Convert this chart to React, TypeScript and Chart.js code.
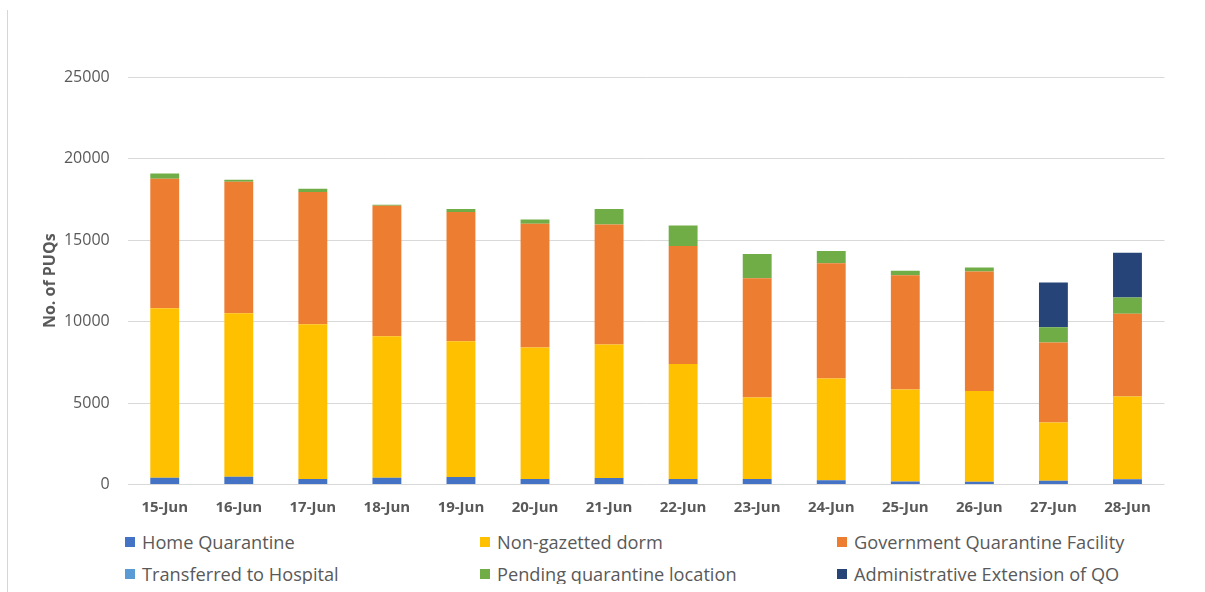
import React, { useEffect, useRef } from "react";
import { Chart, registerables } from "chart.js";

Chart.register(...registerables);

const categories = ["15-Jun", "16-Jun", "17-Jun", "18-Jun", "19-Jun", "20-Jun", "21-Jun", "22-Jun", "23-Jun", "24-Jun", "25-Jun", "26-Jun", "27-Jun", "28-Jun"];
const homeQuarantine = [418, 479, 338, 418, 461, 338, 399, 338, 338, 256, 180, 174, 235, 317];
const nonGazettedDorm = [10400, 10033, 9498, 8681, 8331, 8062, 8185, 7061, 4992, 6241, 5642, 5567, 3562, 5076];
const governmentQuarantineFacility = [7940, 8061, 8104, 8001, 7921, 7595, 7368, 7226, 7330, 7083, 7022, 7326, 4911, 5077];
const transferredToHospital = [0, 0, 0, 0, 0, 0, 0, 0, 0, 0, 0, 0, 0, 0];
const pendingQuarantineLocation = [325, 123, 204, 61, 184, 264, 945, 1265, 1474, 738, 264, 246, 943, 1001];
const administrativeExtension = [0, 0, 0, 0, 0, 0, 0, 0, 0, 0, 0, 0, 2742, 2745];

const yTicks = [0, 5000, 10000, 15000, 20000, 25000];

const series = [
  { label: "Home Quarantine", data: homeQuarantine, color: "#4472C4" },
  { label: "Non-gazetted dorm", data: nonGazettedDorm, color: "#FFC000" },
  { label: "Government Quarantine Facility", data: governmentQuarantineFacility, color: "#ED7D31" },
  { label: "Transferred to Hospital", data: transferredToHospital, color: "#5B9BD5" },
  { label: "Pending quarantine location", data: pendingQuarantineLocation, color: "#70AD47" },
  { label: "Administrative Extension of QO", data: administrativeExtension, color: "#264478" },
];

const FONT = "'Open Sans', 'Liberation Sans', sans-serif";
const TEXT = "#595959";

export default function App() {
  const ref = useRef<HTMLCanvasElement | null>(null);

  useEffect(() => {
    if (!ref.current) return;
    const chart = new Chart(ref.current, {
      type: "bar",
      data: {
        labels: categories,
        datasets: series.map((s) => ({
          label: s.label,
          data: s.data,
          backgroundColor: s.color,
          borderWidth: 0,
          categoryPercentage: 1,
          barPercentage: 0.39,
        })),
      },
      options: {
        responsive: false,
        animation: false,
        layout: { padding: { left: 0, right: 32.5, top: 69, bottom: 0 } },
        plugins: { legend: { display: false }, tooltip: { enabled: false } },
        scales: {
          x: {
            stacked: true,
            grid: { display: false, drawTicks: false },
            border: { display: false },
            ticks: {
              padding: 14,
              color: TEXT,
              font: { family: FONT, size: 15, weight: "bold" },
              maxRotation: 0,
              autoSkip: false,
            },
            afterFit: (scale: any) => {
              scale.height = 43.5;
            },
          },
          y: {
            stacked: true,
            min: yTicks[0],
            max: yTicks[yTicks.length - 1],
            afterBuildTicks: (scale: any) => {
              scale.ticks = yTicks.map((v) => ({ value: v }));
            },
            grid: { color: "#d9d9d9", lineWidth: 1, drawTicks: false },
            border: { display: false },
            ticks: {
              padding: 18,
              color: TEXT,
              font: { family: FONT, size: 16 },
              callback: (v: any) => String(v),
            },
            title: {
              display: true,
              text: "No. of PUQs",
              color: TEXT,
              font: { family: FONT, size: 16, weight: "bold" },
              padding: { top: 33, bottom: 0 },
            },
            afterFit: (scale: any) => {
              scale.width = 119.7;
            },
          },
        },
      },
    });
    return () => chart.destroy();
  }, []);

  const rows = [
    [series[0], series[1], series[2]],
    [series[3], series[4], series[5]],
  ];
  const colLeft = [117, 472, 829];
  const rowCenter = [534, 566];

  return (
    <div style={{ position: "relative", width: 1189, height: 576, fontFamily: FONT }}>
      <div style={{ position: "fixed", left: 7, top: 10, width: 1, height: 600, background: "#d6d6d6" }} />
      <canvas ref={ref} width={1189} height={520} style={{ position: "absolute", left: 0, top: 0 }} />
      {rows.map((row, ri) =>
        row.map((s, ci) => (
          <div
            key={s.label}
            style={{
              position: "absolute",
              left: colLeft[ci],
              top: rowCenter[ri] - 13,
              height: 26,
              display: "flex",
              alignItems: "center",
              whiteSpace: "nowrap",
            }}
          >
            <span style={{ display: "inline-block", width: 10, height: 10, background: s.color, marginRight: 7 }} />
            <span style={{ fontSize: 18.2, color: TEXT, lineHeight: "26px" }}>{s.label}</span>
          </div>
        ))
      )}
    </div>
  );
}
